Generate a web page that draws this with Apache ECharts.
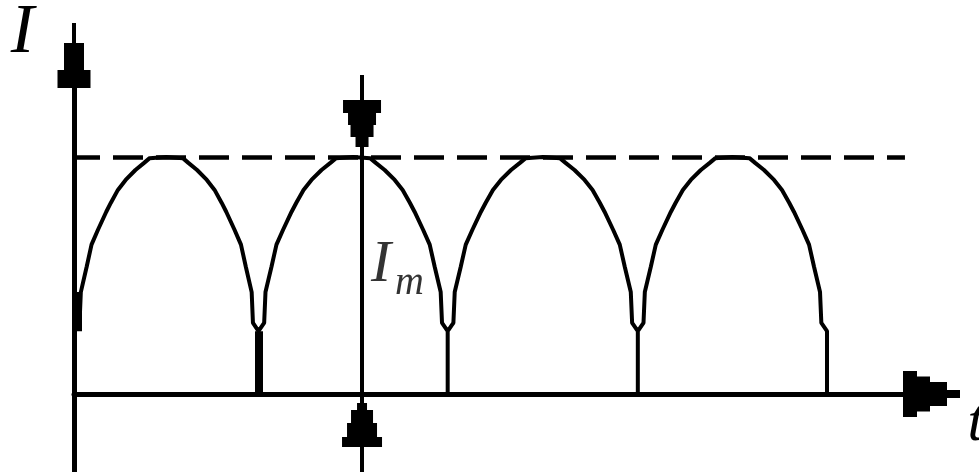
<!DOCTYPE html>
<html>
<head>
<meta charset="utf-8">
<title>rectified current</title>
<script src="https://cdn.jsdelivr.net/npm/echarts@6/dist/echarts.min.js"></script>
<style>
  html, body { margin: 0; padding: 0; background: #fff; }
  #chart { width: 979px; height: 472px; }
</style>
</head>
<body>
<div id="chart"></div>
<script>
// zeros of the current on the t axis (t in half periods)
var zeroT = [0, 0.98, 1.985, 2.995, 4.0];
// one hump: part of the half period / part of Im
var humpX = [0, 0, 0.03, 0.037, 0.069, 0.095, 0.13, 0.175, 0.2, 0.238, 0.28, 0.333, 0.38, 0.41, 0.5,
             0.59, 0.62, 0.667, 0.72, 0.762, 0.8, 0.825, 0.87, 0.905, 0.931, 0.963, 0.97, 1, 1];
var humpY = [0, 0.265, 0.3, 0.43, 0.538, 0.63, 0.693, 0.769, 0.807, 0.861, 0.903, 0.945, 0.975, 0.995, 1,
             0.995, 0.975, 0.945, 0.903, 0.861, 0.807, 0.769, 0.693, 0.63, 0.538, 0.43, 0.3, 0.265, 0];
var peakI = 1;          // Im
var dashEndT = 4.414;   // where the dashed Im line stops
var imT = 1.53;         // t of the Im marker line
var imTop = 1.346;
var tMax = 4.555;
var iMin = -0.329, iMax = 1.428;
// heavy bits of the scan: [t, from, to]
var thickStems = [[0.98, 0, 0.265], [0.021, 0.265, 0.43]];
var arrowDownI = 1.141, arrowUpI = -0.131;
var imLabelI = 0.544;

var xArrow = 'path://M19 0L27 0L27 13L35 13L35 30L40.5 30L40.5 43L46 43L46 57L0 57L0 43L5.5 43L5.5 30L11 30L11 13L19 13Z';
var yArrow = 'path://M14.5 0L18.5 0L18.5 20L26.5 20L26.5 47L33 47L33 65L0 65L0 47L6.5 47L6.5 20L14.5 20Z';
var downArrow = 'path://M12.5 0L25.5 0L25.5 10L30.5 10L30.5 22L33 22L33 34L38 34L38 47L0 47L0 34L5 34L5 22L7.5 22L7.5 10L12.5 10Z';
var upArrow = 'path://M15 0L25 0L25 7L31 7L31 20L35 20L35 34L40 34L40 44L0 44L0 34L5 34L5 20L9 20L9 7L15 7Z';

var wave = [];
for (var k = 0; k < zeroT.length - 1; k++) {
    var w = zeroT[k + 1] - zeroT[k];
    for (var j = 0; j < humpX.length; j++) {
        wave.push([zeroT[k] + humpX[j] * w, humpY[j] * peakI]);
    }
}

var stemLines = thickStems.map(function (s) {
    return { coords: [[s[0], s[1]], [s[0], s[2]]], lineStyle: { width: 8 } };
});
stemLines.push({ coords: [[imT, iMin], [imT, imTop]], lineStyle: { width: 4 } });

var serif = 'Liberation Serif';
var myChart = echarts.init(document.getElementById('chart'));
myChart.setOption({
    animation: false,
    grid: { left: 74, right: 47.5, top: 55.5, bottom: 0, outerBoundsMode: 'none', containLabel: false },
    xAxis: {
        type: 'value', min: 0, max: tMax,
        name: 't', nameLocation: 'end', nameGap: 36,
        nameTextStyle: { fontFamily: serif, fontStyle: 'italic', fontSize: 60, color: '#000', align: 'left', verticalAlign: 'top' },
        axisLine: { onZero: true, symbol: ['none', xArrow], symbolSize: [46, 57], lineStyle: { color: '#000', width: 5 } },
        axisTick: { show: false }, axisLabel: { show: false }, splitLine: { show: false }
    },
    yAxis: {
        type: 'value', min: iMin, max: iMax,
        name: 'I', nameLocation: 'end', nameGap: 22,
        nameTextStyle: { fontFamily: serif, fontStyle: 'italic', fontSize: 70, color: '#000', align: 'right', verticalAlign: 'middle', padding: [0, 40, 0, 0] },
        axisLine: { onZero: true, symbol: ['none', yArrow], symbolSize: [33, 65], lineStyle: { color: '#000', width: 5 } },
        axisTick: { show: false }, axisLabel: { show: false }, splitLine: { show: false }
    },
    series: [
        {
            type: 'line', data: wave, symbol: 'none', silent: true, z: 3,
            lineStyle: { color: '#000', width: 4 }
        },
        {
            type: 'lines', coordinateSystem: 'cartesian2d', silent: true, z: 2,
            data: [{ coords: [[0, peakI], [dashEndT, peakI]] }],
            lineStyle: { color: '#000', width: 4.5, type: [30, 13], dashOffset: 4, opacity: 1 }
        },
        {
            type: 'lines', coordinateSystem: 'cartesian2d', silent: true, z: 3,
            data: stemLines,
            lineStyle: { color: '#000', opacity: 1 }
        },
        {
            type: 'scatter', silent: true, z: 4,
            itemStyle: { color: '#000', opacity: 1 },
            data: [
                { value: [imT, arrowDownI], symbol: downArrow, symbolSize: [38, 47], symbolRotate: 180 },
                { value: [imT, arrowUpI], symbol: upArrow, symbolSize: [40, 44] }
            ]
        },
        {
            type: 'scatter', silent: true, z: 4, symbolSize: 0,
            data: [[imT, imLabelI]],
            label: {
                show: true, position: 'right', distance: 9, color: '#000',
                formatter: '{i|I}{m|m}',
                rich: {
                    i: { fontFamily: serif, fontStyle: 'italic', fontSize: 60, lineHeight: 60, color: '#000', verticalAlign: 'top' },
                    m: { fontFamily: serif, fontStyle: 'italic', fontSize: 40, lineHeight: 40, color: '#000', verticalAlign: 'top', padding: [28, 0, 0, 4] }
                }
            }
        }
    ]
});
</script>
</body>
</html>
